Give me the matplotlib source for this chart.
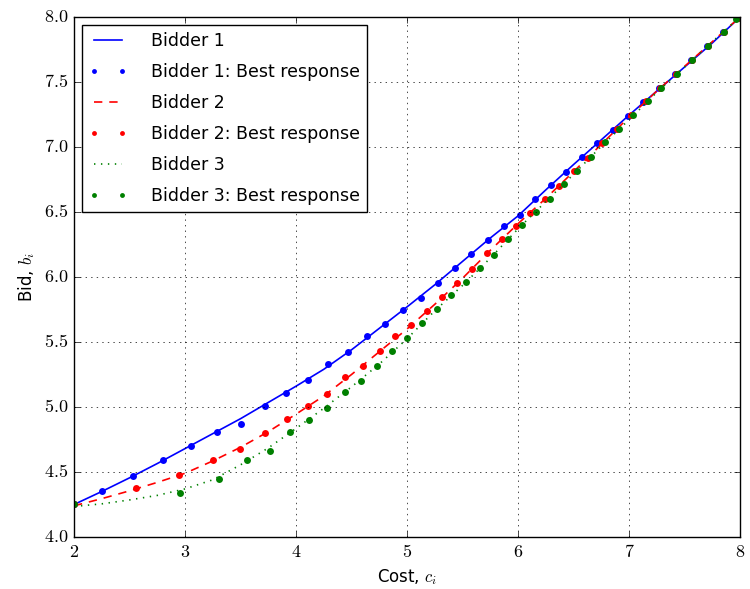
import matplotlib
matplotlib.use('Agg')
import matplotlib.pyplot as plt
from matplotlib.ticker import FormatStrFormatter

plt.style.use('classic')
plt.rcParams['mathtext.fontset'] = 'cm'
plt.rcParams['font.family'] = 'DejaVu Sans'

# equilibrium bid functions
cost = [2.0, 2.25, 2.5, 2.75, 3.0, 3.25, 3.5, 3.75, 4.0, 4.25, 4.5, 4.75, 5.0,
        5.25, 5.5, 5.75, 6.0, 6.25, 6.5, 6.75, 7.0, 7.25, 7.5, 7.75, 8.0]
bid1 = [4.25, 4.35, 4.455, 4.565, 4.68, 4.795, 4.91, 5.035, 5.16, 5.29, 5.44, 5.605, 5.77,
        5.94, 6.12, 6.30, 6.47, 6.67, 6.865, 7.055, 7.245, 7.43, 7.615, 7.80, 8.0]
bid2 = [4.24, 4.295, 4.355, 4.42, 4.49, 4.585, 4.69, 4.81, 4.945, 5.085, 5.25, 5.425, 5.60,
        5.79, 5.99, 6.205, 6.41, 6.605, 6.81, 7.02, 7.23, 7.43, 7.62, 7.81, 8.0]
bid3 = [4.235, 4.255, 4.285, 4.32, 4.37, 4.44, 4.555, 4.685, 4.835, 4.99, 5.155, 5.33, 5.525,
        5.74, 5.935, 6.145, 6.37, 6.58, 6.79, 7.005, 7.21, 7.42, 7.615, 7.81, 8.0]

# best responses
br1_c = [2.0, 2.255, 2.534, 2.80, 3.05, 3.285, 3.50, 3.72, 3.91, 4.105, 4.285, 4.465,
         4.637, 4.805, 4.967, 5.126, 5.282, 5.432, 5.58, 5.727, 5.874, 6.015, 6.156,
         6.295, 6.435, 6.574, 6.714, 6.856, 6.994, 7.13, 7.27, 7.41, 7.555, 7.70, 7.845, 7.98]
br1_b = [4.25, 4.35, 4.47, 4.59, 4.70, 4.81, 4.87, 5.01, 5.11, 5.205, 5.33, 5.42,
         5.546, 5.636, 5.75, 5.84, 5.954, 6.067, 6.177, 6.285, 6.392, 6.48, 6.60,
         6.71, 6.81, 6.925, 7.03, 7.13, 7.24, 7.35, 7.456, 7.56, 7.67, 7.777, 7.885, 7.99]
br2_c = [2.0, 2.556, 2.943, 3.249, 3.498, 3.724, 3.92, 4.11, 4.276, 4.445, 4.60, 4.754,
         4.895, 5.04, 5.18, 5.318, 5.453, 5.588, 5.72, 5.853, 5.979, 6.111, 6.24, 6.372,
         6.50, 6.627, 6.757, 6.889, 7.02, 7.153, 7.28, 7.42, 7.565, 7.71, 7.855, 7.98]
br2_b = [4.25, 4.377, 4.477, 4.59, 4.68, 4.80, 4.91, 5.01, 5.10, 5.228, 5.315, 5.43,
         5.546, 5.628, 5.738, 5.85, 5.956, 6.06, 6.187, 6.29, 6.392, 6.495, 6.598, 6.698,
         6.813, 6.915, 7.03, 7.136, 7.25, 7.354, 7.456, 7.56, 7.67, 7.777, 7.885, 7.99]
br3_c = [2.0, 2.958, 3.306, 3.556, 3.763, 3.946, 4.117, 4.283, 4.44, 4.583, 4.727, 4.868,
         5.003, 5.138, 5.27, 5.40, 5.53, 5.655, 5.784, 5.91, 6.036, 6.16, 6.288, 6.41,
         6.535, 6.66, 6.787, 6.91, 7.04, 7.17, 7.29, 7.43, 7.57, 7.715, 7.86, 7.967]
br3_b = [4.255, 4.336, 4.446, 4.59, 4.66, 4.81, 4.90, 4.99, 5.113, 5.198, 5.315, 5.428,
         5.533, 5.646, 5.756, 5.86, 5.96, 6.07, 6.17, 6.295, 6.40, 6.497, 6.598, 6.713,
         6.815, 6.925, 7.036, 7.136, 7.244, 7.354, 7.456, 7.56, 7.67, 7.777, 7.885, 7.985]

fig = plt.figure(figsize=(7.5, 5.89), dpi=100, facecolor='white')
ax = fig.add_axes([0.0987, 0.0883, 0.888, 0.8828])

ms = 5
lw = 1.2
ax.plot(cost, bid1, 'b-', lw=lw, label='Bidder 1')
ax.plot(br1_c, br1_b, 'bo', ms=ms, mew=0, label='Bidder 1: Best response')
ax.plot(cost, bid2, 'r', ls=(0, (6, 5)), lw=lw, label='Bidder 2')
ax.plot(br2_c, br2_b, 'ro', ms=ms, mew=0, label='Bidder 2: Best response')
ax.plot(cost, bid3, 'g', ls=(0, (1, 4)), lw=lw, label='Bidder 3')
ax.plot(br3_c, br3_b, 'go', ms=ms, mew=0, label='Bidder 3: Best response')

ax.set_xlim(2, 8)
ax.set_ylim(4, 8)
ax.xaxis.set_major_formatter(FormatStrFormatter('$%d$'))
ax.yaxis.set_major_formatter(FormatStrFormatter('$%.1f$'))
ax.tick_params(labelsize=13)
ax.set_xlabel('Cost, $c_i$', fontsize=12)
ax.set_ylabel('Bid, $b_i$', fontsize=12)
ax.grid(True)
ax.legend(loc='upper left', numpoints=2, fontsize=12.5, markerscale=0.7,
          labelspacing=0.75, handletextpad=1.4, handlelength=2.2,
          borderaxespad=0.45)

fig.savefig('out.png', dpi=100, facecolor='white')
